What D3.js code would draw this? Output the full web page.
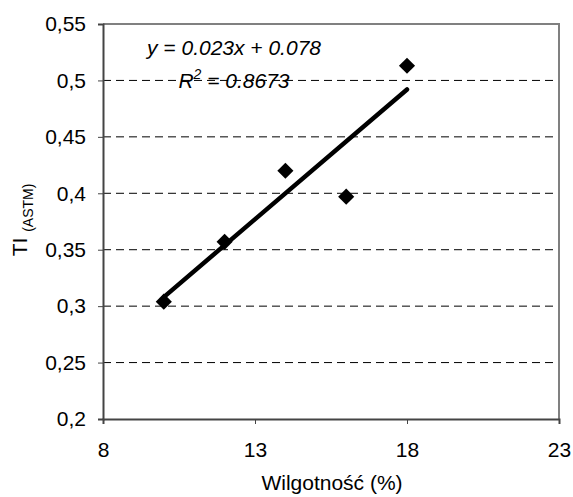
<!DOCTYPE html>
<html>
<head>
<meta charset="utf-8">
<script src="https://cdn.jsdelivr.net/npm/d3@7"></script>
<style>
  body { margin: 0; background: #fff; }
  svg text { font-family: "Liberation Sans", Arial, sans-serif; }
</style>
</head>
<body>
<div id="chart"></div>
<script>
// measured points
const wilgotnosc = [10, 12, 14, 16, 18];
const ti = [0.304, 0.357, 0.420, 0.397, 0.513];

// trend line as printed on the chart
const slope = 0.023;
const intercept = 0.078;
const r2 = "0.8673";

const xTicks = [8, 13, 18, 23];
const yTicks = [0.2, 0.25, 0.3, 0.35, 0.4, 0.45, 0.5, 0.55];

const W = 573, H = 497;
const MARGIN = {top: 24, right: 14, bottom: 78, left: 103};
const FONT = 21;

const svg = d3.select("#chart")
    .append("svg")
    .attr("width", W)
    .attr("height", H);

const x = d3.scaleLinear().domain([8, 23]).range([MARGIN.left, W - MARGIN.right]);
const y = d3.scaleLinear().domain([0.2, 0.55]).range([H - MARGIN.bottom, MARGIN.top]);

const fmt = d => String(d).replace(".", ",");

// dashed gridlines
svg.append("g")
    .selectAll("line")
    .data(yTicks.slice(1, -1))
    .enter().append("line")
    .attr("x1", x(8)).attr("x2", x(23))
    .attr("y1", d => y(d)).attr("y2", d => y(d))
    .attr("stroke", "#000")
    .attr("stroke-width", 1)
    .attr("stroke-dasharray", "8,5");

// plot frame top / right
svg.append("path")
    .attr("d", `M${x(8)},${y(0.55)}H${x(23)}V${y(0.2)}`)
    .attr("fill", "none")
    .attr("stroke", "#808080")
    .attr("stroke-width", 2);

// axes
const yAxis = svg.append("g")
    .attr("transform", `translate(${x(8)},0)`)
    .call(d3.axisLeft(y).tickValues(yTicks).tickFormat(fmt).tickSize(5).tickPadding(12));
const xAxis = svg.append("g")
    .attr("transform", `translate(0,${y(0.2)})`)
    .call(d3.axisBottom(x).tickValues(xTicks).tickSize(5).tickPadding(18));

[xAxis, yAxis].forEach(a => {
    a.select(".domain").attr("stroke", "#444").attr("stroke-width", 2);
    a.selectAll(".tick line").attr("stroke", "#444");
    a.selectAll("text").attr("font-size", FONT).attr("fill", "#000")
        .style("font-family", "'Liberation Sans', Arial, sans-serif");
});

// trend line
const xMin = d3.min(wilgotnosc), xMax = d3.max(wilgotnosc);
svg.append("line")
    .attr("x1", x(xMin)).attr("y1", y(slope * xMin + intercept))
    .attr("x2", x(xMax)).attr("y2", y(slope * xMax + intercept))
    .attr("stroke", "#000")
    .attr("stroke-width", 4.5)
    .attr("stroke-linecap", "round");

// diamonds
svg.append("g")
    .selectAll("path")
    .data(wilgotnosc.map((d, i) => [d, ti[i]]))
    .enter().append("path")
    .attr("transform", d => `translate(${x(d[0])},${y(d[1])}) rotate(45)`)
    .attr("d", "M-5.7,-5.7H5.7V5.7H-5.7Z")
    .attr("fill", "#000");

// equation
svg.append("text")
    .attr("x", 234).attr("y", 55)
    .attr("text-anchor", "middle")
    .attr("font-size", FONT).attr("font-style", "italic")
    .text(`y = ${slope}x + ${intercept}`);

const r2Text = svg.append("text")
    .attr("x", 234).attr("y", 88)
    .attr("text-anchor", "middle")
    .attr("font-size", FONT).attr("font-style", "italic");
r2Text.append("tspan").text("R");
r2Text.append("tspan").attr("dy", -9).attr("font-size", 14).text("2");
r2Text.append("tspan").attr("dy", 9).text(" = " + r2);

// axis titles
svg.append("text")
    .attr("x", 332).attr("y", 490)
    .attr("text-anchor", "middle")
    .attr("font-size", FONT)
    .text("Wilgotność (%)");

const yTitle = svg.append("text")
    .attr("transform", "translate(27,220) rotate(-90)")
    .attr("text-anchor", "middle")
    .attr("font-size", FONT);
yTitle.append("tspan").text("TI ");
yTitle.append("tspan").attr("font-size", 14).attr("dy", 6).text("(ASTM)");
</script>
</body>
</html>
